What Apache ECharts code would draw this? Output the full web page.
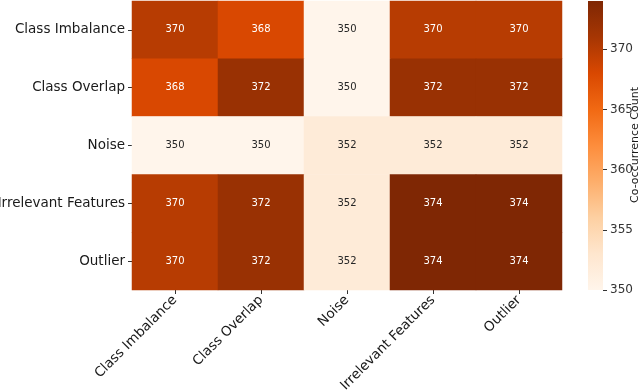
<!DOCTYPE html>
<html>
<head>
<meta charset="utf-8">
<script src="https://cdn.jsdelivr.net/npm/echarts@6/dist/echarts.min.js"></script>
<style>
  html, body { margin: 0; padding: 0; background: #fff; }
  #main { width: 640px; height: 392px; }
</style>
</head>
<body>
<div id="main"></div>
<script>
// categories (same on both axes)
var categories = ['Class Imbalance', 'Class Overlap', 'Noise', 'Irrelevant Features', 'Outlier'];
// co-occurrence counts, one row per category
var rowImbalance = [370, 368, 350, 370, 370];
var rowOverlap = [368, 372, 350, 372, 372];
var rowNoise = [350, 350, 352, 352, 352];
var rowIrrelevant = [370, 372, 352, 374, 374];
var rowOutlier = [370, 372, 352, 374, 374];
var colorbarTicks = [350, 355, 360, 365, 370];
var vMin = 350, vMax = 374;

// matplotlib Oranges
var oranges = ['#fff5eb', '#fee6ce', '#fdd0a2', '#fdae6b', '#fd8d3c', '#f16913', '#d94801', '#a63603', '#7f2704'];

var rows = [rowImbalance, rowOverlap, rowNoise, rowIrrelevant, rowOutlier];
var data = [];
rows.forEach(function (row, y) {
  row.forEach(function (v, x) {
    data.push({
      value: [x, y, v],
      label: { color: v < 360 ? '#262626' : '#ffffff' }
    });
  });
});

var chart = echarts.init(document.getElementById('main'));
var font = 'DejaVu Sans';
var option = {
  animation: false,
  textStyle: { fontFamily: font },
  grid: [
    { left: 132, top: 1, width: 430, height: 289, containLabel: false, outerBoundsMode: 'none' },
    { left: 588, top: 1, width: 15, height: 289, containLabel: false, outerBoundsMode: 'none' }
  ],
  // colorbar title, rotated like matplotlib's
  graphic: [{
    type: 'text',
    x: 635,
    y: 145,
    rotation: Math.PI / 2,
    style: {
      text: 'Co-occurrence Count',
      font: '11px "DejaVu Sans"',
      fill: '#1a1a1a',
      align: 'center',
      verticalAlign: 'middle'
    }
  }],
  xAxis: [{
    type: 'category',
    gridIndex: 0,
    data: categories,
    axisLine: { show: false },
    axisTick: { show: true, alignWithLabel: true, length: 4, lineStyle: { color: '#333' } },
    axisLabel: { rotate: 45, fontSize: 13.5, color: '#1a1a1a', fontFamily: font, margin: 8 },
    splitArea: { show: false }
  }, {
    type: 'category',
    gridIndex: 1,
    data: [''],
    show: false
  }],
  yAxis: [{
    type: 'category',
    gridIndex: 0,
    data: categories,
    inverse: true,
    axisLine: { show: false },
    axisTick: { show: true, alignWithLabel: true, length: 4, lineStyle: { color: '#333' } },
    axisLabel: { fontSize: 13.5, color: '#1a1a1a', fontFamily: font, margin: 7 }
  }, {
    type: 'value',
    gridIndex: 1,
    position: 'right',
    min: vMin,
    max: vMax,
    splitLine: { show: false },
    axisLine: { show: false },
    axisTick: { show: true, length: 4, lineStyle: { color: '#333' }, customValues: colorbarTicks },
    axisLabel: { fontSize: 12, color: '#333', fontFamily: font, margin: 7, customValues: colorbarTicks }
  }],
  visualMap: {
    show: false,
    seriesIndex: 0,
    min: vMin,
    max: vMax,
    dimension: 2,
    inRange: { color: oranges }
  },
  series: [{
    type: 'heatmap',
    xAxisIndex: 0,
    yAxisIndex: 0,
    data: data,
    label: { show: true, fontSize: 10, fontFamily: font },
    itemStyle: { borderWidth: 0 }
  }, {
    type: 'bar',
    xAxisIndex: 1,
    yAxisIndex: 1,
    barWidth: '100%',
    data: [vMax],
    itemStyle: {
      color: new echarts.graphic.LinearGradient(0, 1, 0, 0,
        oranges.map(function (c, i) { return { offset: i / (oranges.length - 1), color: c }; }))
    },
    silent: true
  }]
};
chart.setOption(option);
</script>
</body>
</html>
